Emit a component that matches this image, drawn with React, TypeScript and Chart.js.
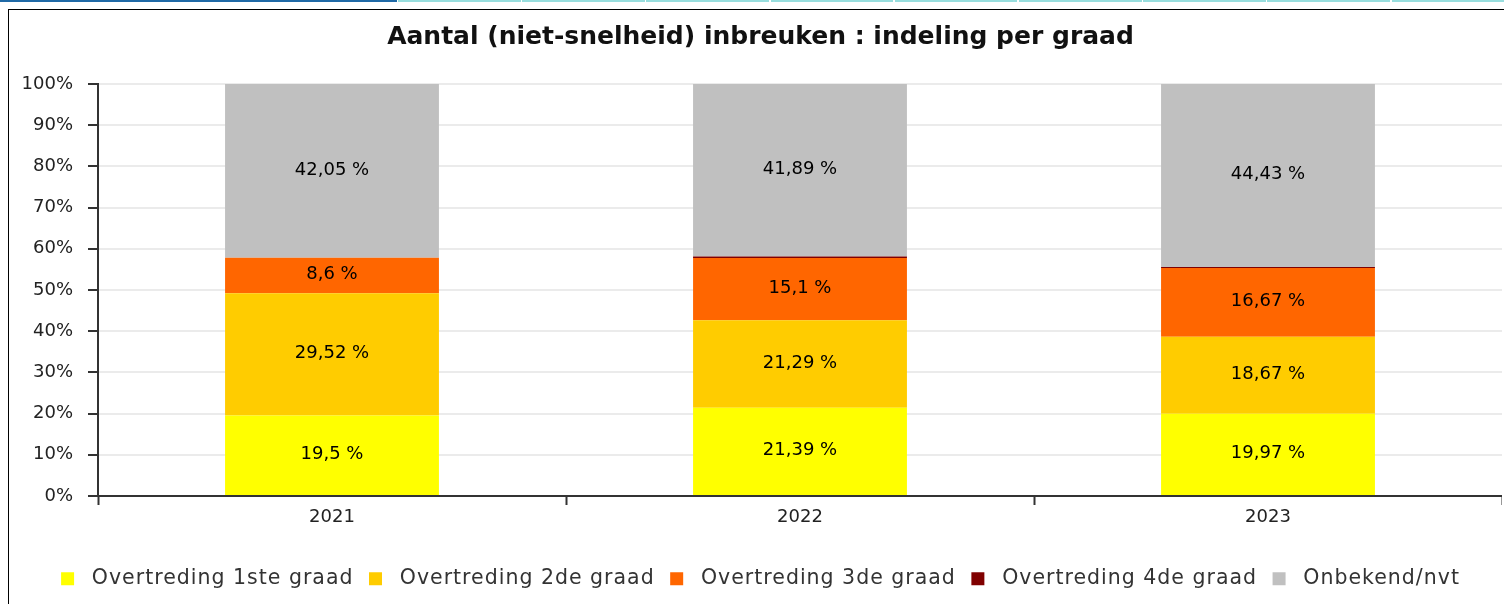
import React, { useEffect, useRef } from 'react';
import { Chart, registerables } from 'chart.js';

Chart.register(...registerables);

const FONT = '"DejaVu Sans", "Liberation Sans", sans-serif';
const LEGEND_SIZE = 20.5;

const chartTitle = 'Aantal (niet-snelheid) inbreuken : indeling per graad';
const categories = ['2021', '2022', '2023'];
const seriesNames = [
  'Overtreding 1ste graad',
  'Overtreding 2de graad',
  'Overtreding 3de graad',
  'Overtreding 4de graad',
  'Onbekend/nvt',
];
const seriesColors = ['#ffff00', '#ffcc00', '#ff6600', '#800000', '#c0c0c0'];

const graad1 = [19.5, 21.39, 19.97];
const graad2 = [29.52, 21.29, 18.67];
const graad3 = [8.6, 15.1, 16.67];
const graad4 = [0, 0.33, 0.26];
const onbekend = [42.05, 41.89, 44.43];

const yTickValues = [0, 10, 20, 30, 40, 50, 60, 70, 80, 90, 100];

const rawSeries = [graad1, graad2, graad3, graad4, onbekend];

const fmt = (v: number) => String(v).replace('.', ',') + ' %';

const barLabelPlugin = {
  id: 'barLabels',
  afterDatasetsDraw(chart: any) {
    const ctx = chart.ctx;
    ctx.save();
    ctx.font = `18px ${FONT}`;
    ctx.fillStyle = '#000';
    ctx.textAlign = 'center';
    ctx.textBaseline = 'middle';
    chart.data.datasets.forEach((_ds: any, di: number) => {
      const meta = chart.getDatasetMeta(di);
      meta.data.forEach((el: any, i: number) => {
        const raw = rawSeries[di][i];
        if (raw < 1) return;
        const { x, y, base } = el.getProps(['x', 'y', 'base'], true);
        ctx.fillText(fmt(raw), x, (y + base) / 2 - 1);
      });
    });
    ctx.restore();
  },
};

function patchLetterSpacing(ctx: any) {
  const desc = Object.getOwnPropertyDescriptor(CanvasRenderingContext2D.prototype, 'font');
  if (!desc || !desc.set || !desc.get) return;
  Object.defineProperty(ctx, 'font', {
    configurable: true,
    get() {
      return desc.get!.call(this);
    },
    set(v: string) {
      desc.set!.call(this, v);
      try {
        this.letterSpacing = String(v).includes(LEGEND_SIZE + 'px') ? '1px' : '0px';
      } catch (e) {
        /* ignore */
      }
    },
  });
}

function ChartCanvas() {
  const ref = useRef<HTMLCanvasElement | null>(null);
  useEffect(() => {
    if (!ref.current) return;
    const ctx2d = ref.current.getContext('2d');
    if (ctx2d) patchLetterSpacing(ctx2d);
    const totals = categories.map((_, i) => rawSeries.reduce((s, arr) => s + arr[i], 0));
    const datasets = rawSeries.map((arr, di) => ({
      label: seriesNames[di],
      data: arr.map((v, i) => (v / totals[i]) * 100),
      backgroundColor: seriesColors[di],
      borderWidth: 0,
      barPercentage: 0.457,
      categoryPercentage: 1,
    }));
    const chart = new Chart(ref.current, {
      type: 'bar',
      data: { labels: categories, datasets },
      plugins: [barLabelPlugin],
      options: {
        responsive: false,
        maintainAspectRatio: false,
        animation: false,
        devicePixelRatio: 1,
        layout: { padding: { left: 10, right: 0, top: 0, bottom: 0 } },
        plugins: {
          title: {
            display: true,
            text: chartTitle,
            color: '#111',
            font: { family: FONT, size: 25, weight: 'bold' },
            padding: { top: 12.7, bottom: 31.3 },
          },
          legend: {
            display: true,
            position: 'bottom',
            labels: {
              color: '#333',
              font: { family: FONT, size: LEGEND_SIZE },
              boxWidth: 13,
              boxHeight: 13,
              padding: 15.5,
              generateLabels: (c: any) => {
                const items = (Chart as any).defaults.plugins.legend.labels.generateLabels(c);
                return items.map((it: any) => ({ ...it, text: ' ' + it.text, lineWidth: 0 }));
              },
            },
          },
          tooltip: { enabled: false },
        },
        scales: {
          x: {
            stacked: true,
            grid: {
              drawOnChartArea: false,
              offset: true,
              tickLength: 9,
              tickWidth: 2,
              tickColor: '#333',
              color: '#333',
            },
            border: { color: '#333', width: 2 },
            ticks: { font: { family: FONT, size: 18 }, color: '#222', padding: 2 },
            afterFit: (s: any) => {
              s.height = 57;
            },
          },
          y: {
            stacked: true,
            min: 0,
            max: 100,
            afterBuildTicks: (s: any) => {
              s.ticks = yTickValues.map((v) => ({ value: v }));
            },
            ticks: {
              stepSize: 10,
              callback: (v: any) => v + '%',
              font: { family: FONT, size: 18 },
              color: '#222',
              padding: 15,
            },
            grid: {
              color: '#ebebeb',
              lineWidth: 2,
              tickColor: '#333',
              tickWidth: 2,
              tickLength: 10,
            },
            border: { color: '#333', width: 2 },
            afterFit: (s: any) => {
              s.width = 79;
            },
          },
        },
      } as any,
    });
    return () => chart.destroy();
  }, []);
  return <canvas ref={ref} width={1493} height={589} style={{ display: 'block', width: 1493, height: 589 }} />;
}

export default function App() {
  const tabs = [0, 1, 2, 3, 4, 5, 6, 7, 8];
  return (
    <div style={{ position: 'fixed', left: 0, top: 0, width: '100vw', height: '100vh', overflow: 'hidden', background: '#fff' }}>
      <div style={{ position: 'absolute', left: 0, top: 0, width: 397, height: 2, background: '#1f69a6' }} />
      {tabs.map((k) => (
        <div
          key={k}
          style={{ position: 'absolute', left: 398 + k * 124.2, top: 0, width: 122.5, height: 2, background: '#98dede' }}
        />
      ))}
      <div
        style={{
          position: 'absolute',
          left: 8,
          top: 9,
          width: 1520,
          height: 700,
          borderLeft: '1px solid #000',
          borderTop: '1px solid #000',
          background: '#fff',
        }}
      >
        <ChartCanvas />
      </div>
    </div>
  );
}
